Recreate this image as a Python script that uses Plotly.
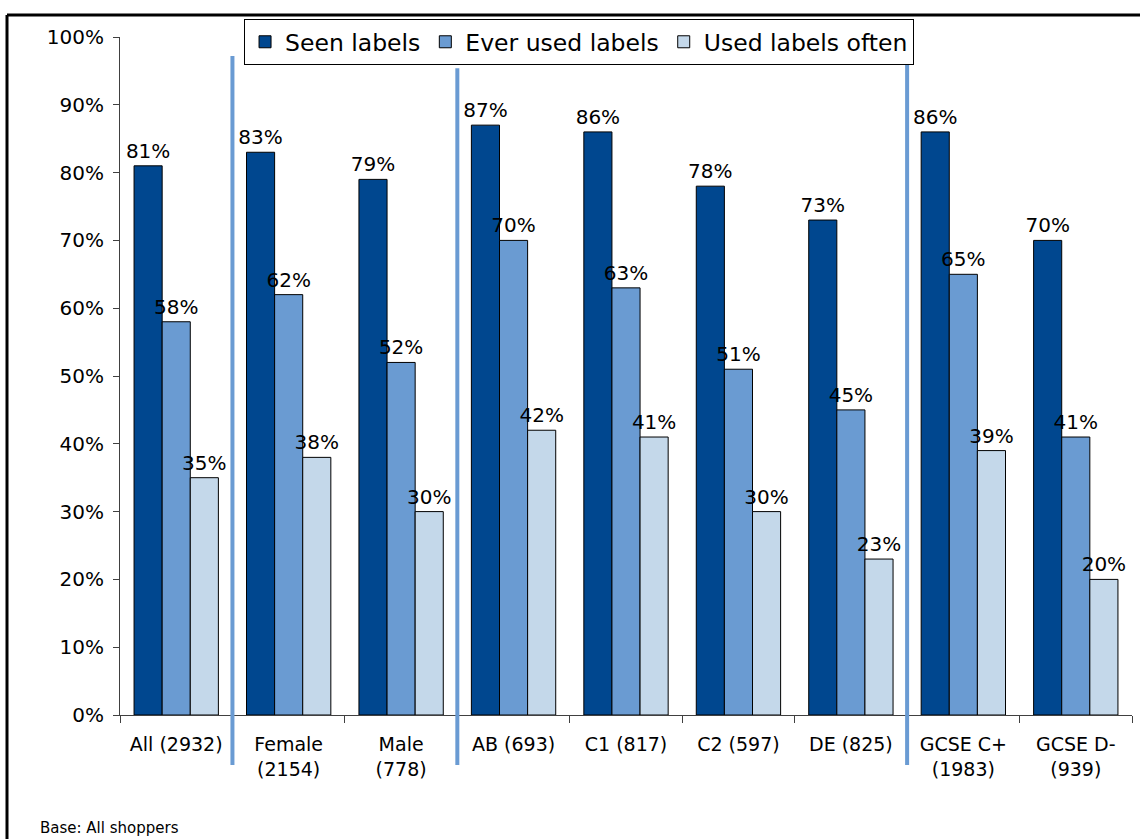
import plotly.graph_objects as go

categories = ["All (2932)", "Female<br>(2154)", "Male<br>(778)", "AB (693)", "C1 (817)",
              "C2 (597)", "DE (825)", "GCSE C+<br>(1983)", "GCSE D-<br>(939)"]
seen = [81, 83, 79, 87, 86, 78, 73, 86, 70]
ever_used = [58, 62, 52, 70, 63, 51, 45, 65, 41]
used_often = [35, 38, 30, 42, 41, 30, 23, 39, 20]
series_names = ["Seen labels", "Ever used labels", "Used labels often"]
colors = ["#00478F", "#6A9BD2", "#C4D8EA"]
separators = [0.5, 2.5, 6.5]
sep_tops = [0.972, 0.954, 0.963]

W, H = 1140, 839
ML, MR, MT, MB = 120, 8, 37, 124
pw, ph = W - ML - MR, H - MT - MB

def px_x(x):
    return (x - ML) / pw

def px_y(y):
    return (H - MB - y) / ph

fig = go.Figure()
for name, vals, col in zip(series_names, [seen, ever_used, used_often], colors):
    fig.add_trace(go.Bar(
        x=categories, y=vals, name=name,
        marker=dict(color=col, line=dict(color="black", width=1)),
        text=[f"{v}%" for v in vals], textposition="outside",
        constraintext="none",
        textfont=dict(size=20, color="black", family="DejaVu Sans"),
        cliponaxis=False,
    ))

shapes = []
for sx, st in zip(separators, sep_tops):
    shapes.append(dict(type="line", xref="x", yref="paper", x0=sx, x1=sx,
                       y0=px_y(765), y1=st, line=dict(color="#6A9BD3", width=4)))
# outer frame lines
shapes.append(dict(type="line", xref="paper", yref="paper", x0=px_x(7), x1=px_x(7),
                   y0=px_y(H), y1=px_y(15), line=dict(color="black", width=3)))
shapes.append(dict(type="line", xref="paper", yref="paper", x0=px_x(7), x1=px_x(W),
                   y0=px_y(15), y1=px_y(15), line=dict(color="black", width=3)))

fig.update_layout(
    width=W, height=H, autosize=False,
    margin=dict(l=ML, r=MR, t=MT, b=MB),
    paper_bgcolor="white", plot_bgcolor="white",
    font=dict(family="DejaVu Sans", color="black"),
    barmode="group", bargap=0.25, bargroupgap=0,
    showlegend=True,
    legend=dict(orientation="h", x=0.4536, xanchor="center", y=px_y(19), yanchor="top",
                bordercolor="black", borderwidth=1, bgcolor="white",
                font=dict(size=23.5, family="DejaVu Sans"), traceorder="normal",
                itemwidth=30),
    shapes=shapes,
    annotations=[dict(text="Base: All shoppers", xref="paper", yref="paper",
                      x=px_x(38), y=px_y(828), xanchor="left", yanchor="middle",
                      showarrow=False, font=dict(size=15, family="DejaVu Sans"))],
)
fig.update_xaxes(showline=True, linecolor="#404040", linewidth=1, ticks="outside",
                 tickson="boundaries", ticklen=7, tickcolor="#404040",
                 ticklabelstandoff=12,
                 tickfont=dict(size=19, family="DejaVu Sans"), showgrid=False)
fig.update_yaxes(range=[0, 100], dtick=10, ticksuffix="%", showline=True,
                 linecolor="#404040", linewidth=1, ticks="outside", ticklen=6,
                 tickcolor="#404040", ticklabelstandoff=5,
                 tickfont=dict(size=20, family="DejaVu Sans"),
                 showgrid=False, zeroline=False)

fig.write_html("out.html")
